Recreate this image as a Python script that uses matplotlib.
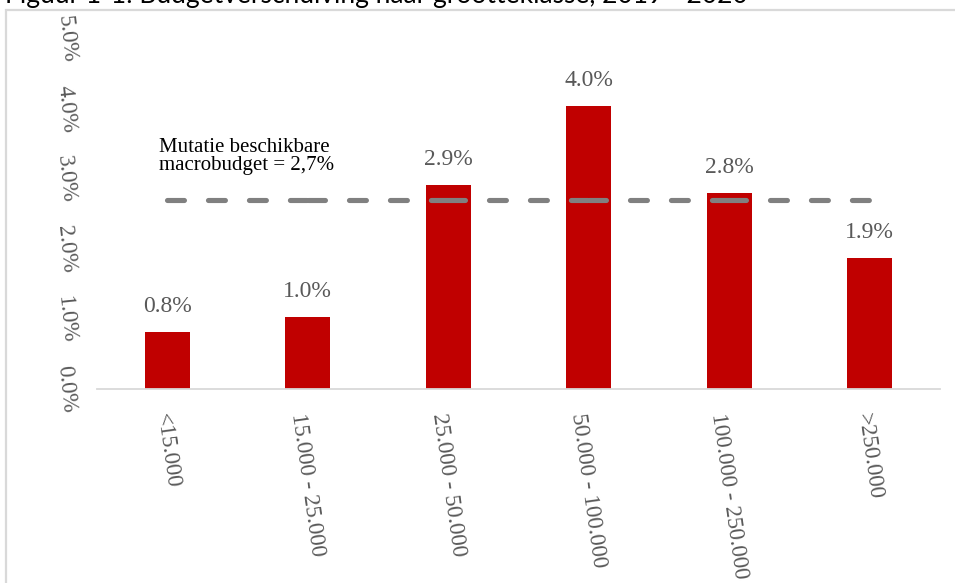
import numpy as np
import matplotlib
matplotlib.use("Agg")
import matplotlib.pyplot as plt
from matplotlib.patches import Rectangle

# data
categories = ["<15.000", "15.000 - 25.000", "25.000 - 50.000",
              "50.000 - 100.000", "100.000 - 250.000", ">250.000"]
values = [0.0081, 0.0103, 0.0291, 0.0404, 0.0280, 0.0187]
value_labels = ["0.8%", "1.0%", "2.9%", "4.0%", "2.8%", "1.9%"]
macro = 0.027
yticks = [0.0, 0.01, 0.02, 0.03, 0.04, 0.05]
ytick_labels = ["0.0%", "1.0%", "2.0%", "3.0%", "4.0%", "5.0%"]
title = "Figuur 1-1: Budgetverschuiving naar grootteklasse, 2019 - 2020"

plt.rcParams['font.family'] = ['Liberation Serif', 'DejaVu Serif']
plt.rcParams['lines.scale_dashes'] = False

W, H = 955, 583
fig = plt.figure(figsize=(W / 100, H / 100), dpi=100)

# grey frame round the chart, running off the right and bottom edge
fig.patches.append(Rectangle((6 / W, -0.2), 1.2, 1 - 9.5 / H + 0.2,
                             transform=fig.transFigure, fill=False,
                             edgecolor="#d9d9d9", linewidth=1.6))

# title, cut off at the top of the picture (as in the source)
fig.text(5 / W, 1 - 3.5 / H, title, family=['Lato', 'DejaVu Sans'],
         fontsize=19, color="black", va="baseline", ha="left")

ax = fig.add_axes([97 / W, 1 - 389 / H, (940 - 97) / W, 350 / H])
x = np.arange(len(categories))

ax.bar(x, values, width=0.32, color="#c00000", zorder=2)

# macro budget line, drawn per segment so the dash pattern restarts at each point
for i in range(len(categories) - 1):
    ax.plot([x[i], x[i + 1]], [macro, macro], color="#808080", lw=3.7,
            dashes=(12.2, 17.3), dash_capstyle="round", zorder=3)

for xi, v, lab in zip(x, values, value_labels):
    ax.annotate(lab, (xi, v), xytext=(0, 14.5), textcoords="offset points",
                ha="center", va="baseline", fontsize=17, color="#595959")

ax.text(-0.06, 0.0313, "Mutatie beschikbare\nmacrobudget = 2,7%",
        fontsize=15, color="black", ha="left", va="baseline", linespacing=0.95,
        zorder=4)

ax.set_xlim(-0.5, 5.5)
ax.set_ylim(0, 0.05)
ax.set_xticks(x)
ax.set_xticklabels(categories, rotation=-82, ha="center", va="top",
                   fontsize=16.5, color="#595959")
ax.set_yticks(yticks)
ax.set_yticklabels(ytick_labels, rotation=-84, ha="right", va="center",
                   fontsize=16.5, color="#595959")
ax.tick_params(axis="x", length=0, pad=16.5)
ax.tick_params(axis="y", length=0, pad=13)

for s in ["top", "right", "left"]:
    ax.spines[s].set_visible(False)
ax.spines["bottom"].set_color("#d9d9d9")
ax.spines["bottom"].set_linewidth(1.3)
ax.set_facecolor("none")

fig.savefig("out.png", dpi=100)
